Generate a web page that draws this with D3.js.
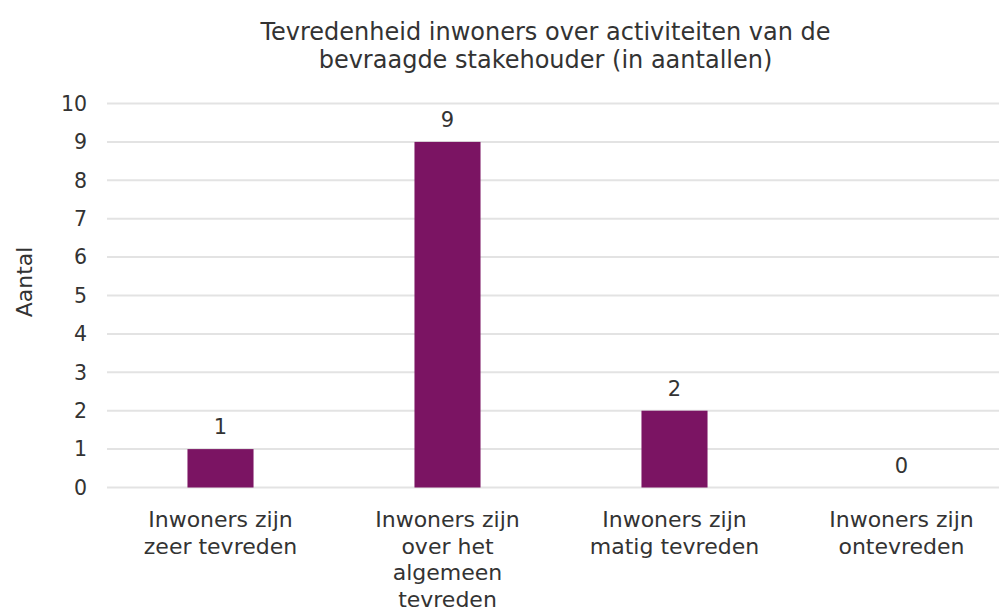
<!DOCTYPE html>
<html>
<head>
    <script src="https://d3js.org/d3.v7.min.js"></script>
    <style>
        body { margin: 0; background: #fff; }
        text { font-family: "DejaVu Sans", Verdana, sans-serif; fill: #333; }
    </style>
</head>
<body>
<script>
const categories = [
    ['Inwoners zijn', 'zeer tevreden'],
    ['Inwoners zijn', 'over het', 'algemeen', 'tevreden'],
    ['Inwoners zijn', 'matig tevreden'],
    ['Inwoners zijn', 'ontevreden']
];
const values = [1, 9, 2, 0];
const yTicks = [0, 1, 2, 3, 4, 5, 6, 7, 8, 9, 10];
const titleLines = ['Tevredenheid inwoners over activiteiten van de', 'bevraagde stakehouder (in aantallen)'];

const width = 999;
const height = 607;
const margin = { top: 103.5, right: -16, bottom: 119.5, left: 107 };

const x = d3.scaleBand()
    .domain(d3.range(values.length))
    .range([margin.left, width - margin.right])
    .paddingInner(0.709)
    .paddingOuter(0.3545);

const y = d3.scaleLinear()
    .domain([0, 10])
    .range([height - margin.bottom, margin.top]);

const svg = d3.select('body').append('svg')
    .attr('width', width)
    .attr('height', height);

// gridlines
svg.append('g')
    .selectAll('line')
    .data(yTicks)
    .join('line')
    .attr('x1', margin.left)
    .attr('x2', width)
    .attr('y1', d => y(d))
    .attr('y2', d => y(d))
    .attr('stroke', '#e3e3e3')
    .attr('stroke-width', 2);

// y tick labels
svg.append('g')
    .selectAll('text')
    .data(yTicks)
    .join('text')
    .attr('x', 87)
    .attr('y', d => y(d))
    .attr('dy', '0.36em')
    .attr('text-anchor', 'end')
    .style('font-size', '20.5px')
    .text(d => d);

// bars
svg.append('g')
    .selectAll('rect')
    .data(values)
    .join('rect')
    .attr('x', (d, i) => x(i))
    .attr('width', x.bandwidth())
    .attr('y', d => y(d))
    .attr('height', d => y(0) - y(d))
    .attr('fill', '#7b1463');

// value labels
svg.append('g')
    .selectAll('text')
    .data(values)
    .join('text')
    .attr('x', (d, i) => x(i) + x.bandwidth() / 2)
    .attr('y', d => y(d) - 15)
    .attr('text-anchor', 'middle')
    .style('font-size', '21px')
    .text(d => d);

// category labels
const cat = svg.append('g')
    .selectAll('text')
    .data(categories)
    .join('text')
    .attr('x', (d, i) => x(i) + x.bandwidth() / 2)
    .attr('y', 527)
    .attr('text-anchor', 'middle')
    .style('font-size', '22px');
cat.selectAll('tspan')
    .data(d => d)
    .join('tspan')
    .attr('x', function () { return this.parentNode.getAttribute('x'); })
    .attr('dy', (d, i) => i === 0 ? 0 : 26.5)
    .text(d => d);

// y axis title
svg.append('text')
    .attr('transform', 'translate(32, 282) rotate(-90)')
    .attr('text-anchor', 'middle')
    .style('font-size', '22px')
    .text('Aantal');

// chart title
svg.append('text')
    .attr('y', 40)
    .attr('text-anchor', 'middle')
    .style('font-size', '24px')
    .selectAll('tspan')
    .data(titleLines)
    .join('tspan')
    .attr('x', 545.5)
    .attr('dy', (d, i) => i === 0 ? 0 : 28)
    .text(d => d);
</script>
</body>
</html>
